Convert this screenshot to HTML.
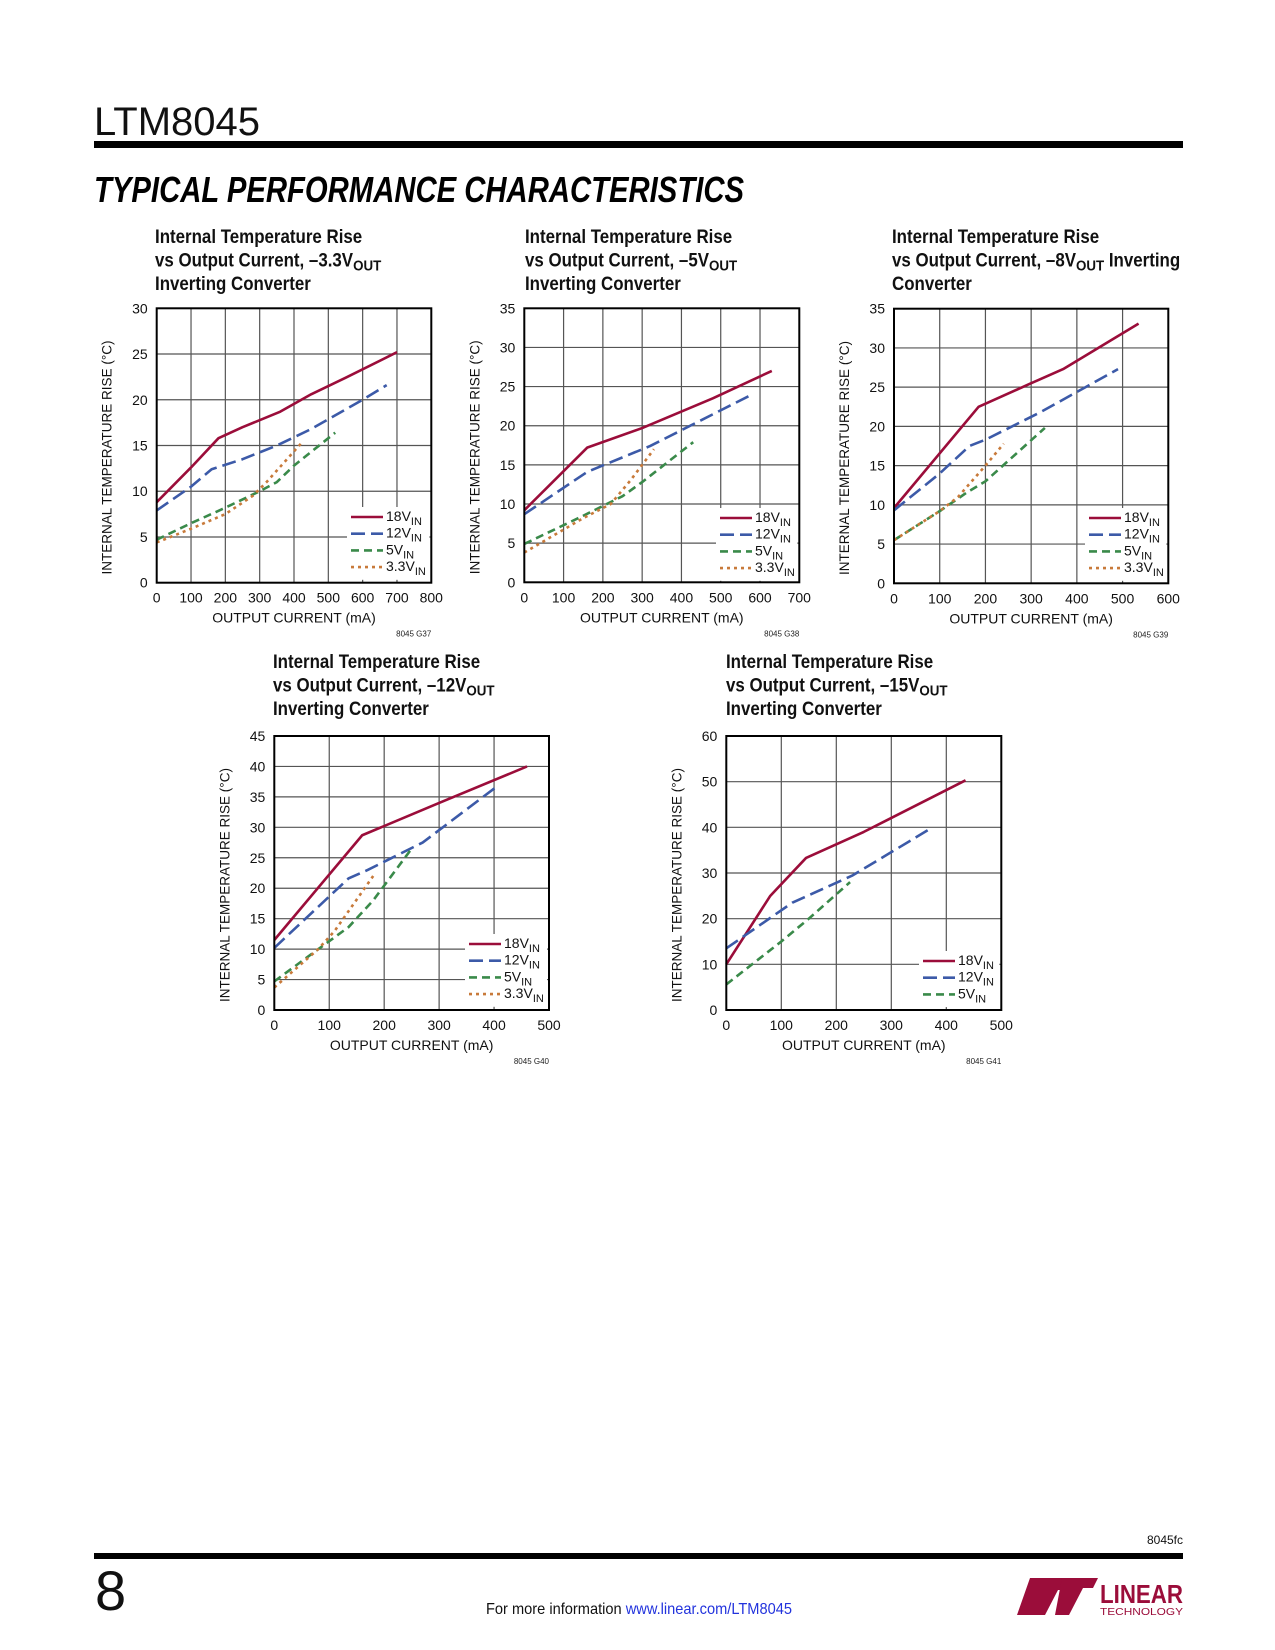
<!DOCTYPE html>
<html><head><meta charset="utf-8"><style>
html,body{margin:0;padding:0;background:#fff;}
svg{display:block;}
text{font-family:"Liberation Sans Narrow","Liberation Sans",sans-serif;}
</style></head><body>
<svg id="page" width="1275" height="1650" viewBox="0 0 1275 1650" xmlns="http://www.w3.org/2000/svg">
<text x="94" y="135" font-family="Liberation Sans" font-size="40" fill="#111" style="font-family:'Liberation Sans',sans-serif">LTM8045</text>
<rect x="94" y="141" width="1089" height="7" fill="#000"/>
<text x="94" y="202" font-size="36" font-weight="bold" font-style="italic" fill="#000" textLength="650" lengthAdjust="spacingAndGlyphs" style="font-family:'Liberation Sans',sans-serif">TYPICAL PERFORMANCE CHARACTERISTICS</text>
<text x="1183" y="1544" font-size="12" text-anchor="end" fill="#111">8045fc</text>
<rect x="94" y="1553" width="1089" height="6" fill="#000"/>
<text x="95" y="1610" font-size="56" fill="#111" style="font-family:'Liberation Sans',sans-serif">8</text>
<text x="486" y="1614" font-size="16" fill="#111" textLength="306" lengthAdjust="spacingAndGlyphs">For more information <tspan fill="#2233dd">www.linear.com/LTM8045</tspan></text>
<g>
<path d="M1030 1578 L1075 1578 L1068 1590 L1058 1590 L1045 1615 L1017 1615 Z" fill="#9b0d3a"/>
<path d="M1062 1578 L1098 1578 L1093 1588 L1083 1588 L1069 1615 L1055 1615 Z" fill="#9b0d3a"/>
<text x="1100" y="1603" font-size="26" font-weight="bold" fill="#9b0d3a" textLength="83" lengthAdjust="spacingAndGlyphs">LINEAR</text>
<text x="1100" y="1615" font-size="10" fill="#9b0d3a" textLength="83" lengthAdjust="spacingAndGlyphs">TECHNOLOGY</text>
</g>
<g id="charts"></g>
</svg>
<script>
// ---- data arrays (x: mA, y: °C) ----
const c1_18x=[0,100,180,250,360,450,550,700], c1_18y=[8.8,12.6,15.8,17,18.7,20.6,22.4,25.2];
const c1_12x=[0,100,160,250,350,450,600,670], c1_12y=[7.9,10.5,12.4,13.5,15,16.8,20,21.6];
const c1_5x=[0,100,200,300,350,400,520], c1_5y=[4.7,6.5,8.2,10,11,12.8,16.4];
const c1_33x=[0,100,200,280,320,420], c1_33y=[4.4,5.9,7.5,9.5,11,15.2];
const c1_xt=[0,100,200,300,400,500,600,700,800], c1_yt=[0,5,10,15,20,25,30];

const c2_18x=[0,160,300,480,630], c2_18y=[9.2,17.2,19.7,23.5,27];
const c2_12x=[0,160,320,580], c2_12y=[8.7,14.1,17.4,24];
const c2_5x=[0,150,250,300,430], c2_5y=[4.9,8.5,11,12.8,17.9];
const c2_33x=[0,150,220,270,330], c2_33y=[3.8,8.2,10,13,17];
const c2_xt=[0,100,200,300,400,500,600,700], c2_yt=[0,5,10,15,20,25,30,35];

const c3_18x=[0,185,300,370,535], c3_18y=[9.6,22.5,25.5,27.3,33.1];
const c3_12x=[0,100,165,200,320,490], c3_12y=[9.3,14,17.5,18.3,21.8,27.3];
const c3_5x=[0,100,160,200,330], c3_5y=[5.5,9.2,11.6,13,19.8];
const c3_33x=[0,100,140,200,240], c3_33y=[5.5,9.2,11,15,17.8];
const c3_xt=[0,100,200,300,400,500,600], c3_yt=[0,5,10,15,20,25,30,35];

const c4_18x=[0,160,300,460], c4_18y=[11.5,28.7,34,40];
const c4_12x=[0,135,170,270,405], c4_12y=[10.2,21.6,23,27.5,36.7];
const c4_5x=[0,80,135,180,250], c4_5y=[4.7,10,13.6,18,26.5];
const c4_33x=[0,80,110,180], c4_33y=[3.7,10,13,22];
const c4_xt=[0,100,200,300,400,500], c4_yt=[0,5,10,15,20,25,30,35,40,45];

const c5_18x=[0,80,145,250,435], c5_18y=[10,25,33.3,39,50.3];
const c5_12x=[0,120,230,375], c5_12y=[13.5,23.5,29.5,40];
const c5_5x=[0,100,150,225], c5_5y=[5.6,15,20,28];
const c5_xt=[0,100,200,300,400,500], c5_yt=[0,10,20,30,40,50,60];

const STY={
 "18":{c:"#9b0d3a",d:"",w:2.6},
 "12":{c:"#3c5aa8",d:"14,6",w:2.6},
 "5":{c:"#3a8a4a",d:"8,5",w:2.6},
 "3.3":{c:"#c87a3a",d:"3,4",w:2.6}
};
const NS="http://www.w3.org/2000/svg";
const root=document.getElementById("charts");
function mk(tag,attrs,parent){const e=document.createElementNS(NS,tag);for(const k in attrs)e.setAttribute(k,attrs[k]);(parent||root).appendChild(e);return e;}

function chart(cfg){
 const g=mk("g",{});
 
 
 const L=cfg.L,R=cfg.R,T=cfg.T,B=cfg.B;
 const xmax=cfg.xt[cfg.xt.length-1], ymax=cfg.yt[cfg.yt.length-1];
 const sx=v=>L+(R-L)*v/xmax, sy=v=>B-(B-T)*v/ymax;
 // title
 const tg=mk("g",{transform:"translate("+cfg.tx+",0) scale(0.89,1) translate("+(-cfg.tx)+",0)"},g);
 const tl=mk("text",{x:cfg.tx,y:cfg.ty,"font-size":19,"font-weight":"bold",fill:"#111"},tg);
 
 
 const t1=mk("tspan",{x:cfg.tx,y:cfg.ty},tl);t1.textContent="Internal Temperature Rise";
 const t2=mk("tspan",{x:cfg.tx,y:cfg.ty+23.5},tl);t2.textContent="vs Output Current, \u2013"+cfg.v+"V";
 const t2s=mk("tspan",{dy:4,"font-size":15},tl);t2s.textContent="OUT";
 if(cfg.wrap){const t2b=mk("tspan",{dy:-4},tl);t2b.textContent=" Inverting";
   const t3=mk("tspan",{x:cfg.tx,y:cfg.ty+47},tl);t3.textContent="Converter";}
 else{const t3=mk("tspan",{x:cfg.tx,y:cfg.ty+47},tl);t3.textContent="Inverting Converter";}
 // grid
 cfg.xt.forEach(v=>{const l=mk("line",{x1:sx(v),x2:sx(v),y1:T,y2:B,stroke:"#555","stroke-width":1.2},g);
   
   const t=mk("text",{x:sx(v),y:B+20,"font-size":14,"text-anchor":"middle",fill:"#111"},g);t.textContent=v;
   });
 cfg.yt.forEach(v=>{const l=mk("line",{x1:L,x2:R,y1:sy(v),y2:sy(v),stroke:"#555","stroke-width":1.2},g);
   
   const t=mk("text",{x:L-9,y:sy(v)+5,"font-size":14,"text-anchor":"end",fill:"#111"},g);t.textContent=v;
   });
 const n=cfg.series.length;
 const lb=mk("rect",{x:cfg.lx-4,y:cfg.ly-10,width:R-cfg.lx+2,height:n*16.7+6,fill:"#fff"},g);
 
 cfg.series.forEach((s,i)=>{
  const st=STY[s.n];
  const pts=s.x.map((xv,j)=>sx(xv)+","+sy(s.y[j])).join(" ");
  const pl=mk("polyline",{points:pts,fill:"none",stroke:st.c,"stroke-width":st.w,"stroke-dasharray":st.d,"stroke-linejoin":"round"},g);
  
  
  const yy=cfg.ly+i*16.7;
  const ll=mk("line",{x1:cfg.lx,x2:cfg.lx+32,y1:yy,y2:yy,stroke:st.c,"stroke-width":st.w,"stroke-dasharray":st.d},g);
  
  const lt=mk("text",{x:cfg.lx+35,y:yy+4,"font-size":14,fill:"#111"},g);
  
  const a=mk("tspan",{},lt);a.textContent=s.n+"V";
  const b=mk("tspan",{dy:4,"font-size":11},lt);b.textContent="IN";
 });
 const fr=mk("rect",{x:L,y:T,width:R-L,height:B-T,fill:"none",stroke:"#000","stroke-width":2},g);
 
 const xa=mk("text",{x:(L+R)/2,y:B+40,"font-size":14,"text-anchor":"middle",fill:"#111"},g);xa.textContent="OUTPUT CURRENT (mA)";
 
 const yx=L-45,yc=(T+B)/2+12;
 const ya=mk("text",{x:yx,y:yc,"font-size":13.5,"text-anchor":"middle",fill:"#111",transform:"rotate(-90 "+yx+" "+yc+")"},g);ya.textContent="INTERNAL TEMPERATURE RISE (\u00B0C)";
 
 const fc=mk("text",{x:R,y:B+54,"font-size":8,"text-anchor":"end",fill:"#222"},g);fc.textContent=cfg.code;
 
}
chart({name:"chart-3v3out",v:"3.3",L:156.7,R:431.3,T:308.3,B:582.7,tx:155,ty:243,xt:c1_xt,yt:c1_yt,lx:351,ly:517,code:"8045 G37",
 series:[{n:"18",x:c1_18x,y:c1_18y},{n:"12",x:c1_12x,y:c1_12y},{n:"5",x:c1_5x,y:c1_5y},{n:"3.3",x:c1_33x,y:c1_33y}]});
chart({name:"chart-5vout",v:"5",L:524.3,R:799.3,T:308.3,B:582.3,tx:525,ty:243,xt:c2_xt,yt:c2_yt,lx:720,ly:518,code:"8045 G38",
 series:[{n:"18",x:c2_18x,y:c2_18y},{n:"12",x:c2_12x,y:c2_12y},{n:"5",x:c2_5x,y:c2_5y},{n:"3.3",x:c2_33x,y:c2_33y}]});
chart({name:"chart-8vout",v:"8",wrap:true,L:894,R:1168.3,T:308.7,B:583.3,tx:892,ty:243,xt:c3_xt,yt:c3_yt,lx:1089,ly:518,code:"8045 G39",
 series:[{n:"18",x:c3_18x,y:c3_18y},{n:"12",x:c3_12x,y:c3_12y},{n:"5",x:c3_5x,y:c3_5y},{n:"3.3",x:c3_33x,y:c3_33y}]});
chart({name:"chart-12vout",v:"12",L:274.3,R:549,T:736,B:1010,tx:273,ty:668,xt:c4_xt,yt:c4_yt,lx:469,ly:944,code:"8045 G40",
 series:[{n:"18",x:c4_18x,y:c4_18y},{n:"12",x:c4_12x,y:c4_12y},{n:"5",x:c4_5x,y:c4_5y},{n:"3.3",x:c4_33x,y:c4_33y}]});
chart({name:"chart-15vout",v:"15",L:726.3,R:1001.3,T:736,B:1010,tx:726,ty:668,xt:c5_xt,yt:c5_yt,lx:923,ly:961,code:"8045 G41",
 series:[{n:"18",x:c5_18x,y:c5_18y},{n:"12",x:c5_12x,y:c5_12y},{n:"5",x:c5_5x,y:c5_5y}]});
</script>
</body></html>
